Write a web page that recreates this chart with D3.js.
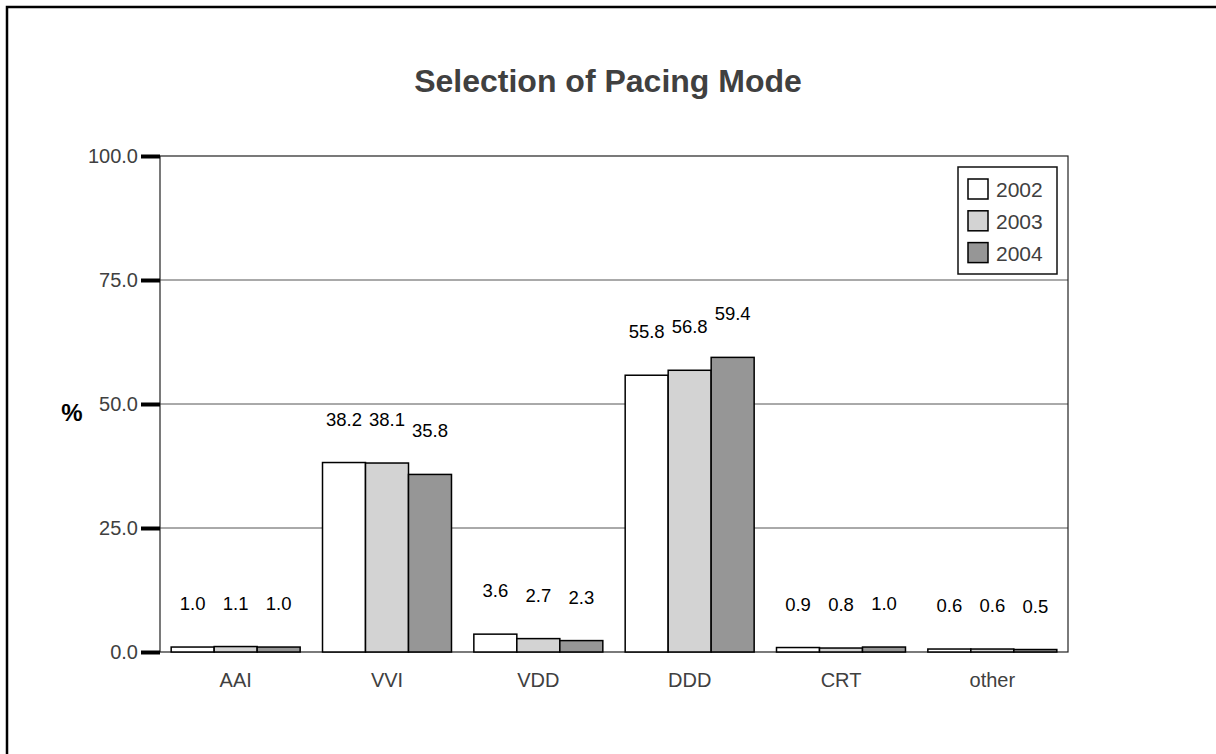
<!DOCTYPE html>
<html>
<head>
<meta charset="utf-8">
<script src="https://cdn.jsdelivr.net/npm/d3@7"></script>
<style>
  html, body { margin: 0; padding: 0; background: #fff; }
  svg { display: block; font-family: "Liberation Sans", Arial, sans-serif; }
</style>
</head>
<body>
<svg id="chart" width="1216" height="754"></svg>
<script>
// Pacing mode share (%) by year
const categories = ["AAI", "VVI", "VDD", "DDD", "CRT", "other"];
const years = ["2002", "2003", "2004"];
const values2002 = [1.0, 38.2, 3.6, 55.8, 0.9, 0.6];
const values2003 = [1.1, 38.1, 2.7, 56.8, 0.8, 0.6];
const values2004 = [1.0, 35.8, 2.3, 59.4, 1.0, 0.5];
const yTicks = [0, 25, 50, 75, 100];
const yTickLabels = ["0.0", "25.0", "50.0", "75.0", "100.0"];

const seriesValues = [values2002, values2003, values2004];
const fills = ["#ffffff", "#d3d3d3", "#969696"];

const svg = d3.select("#chart");

// outer frame
svg.append("rect")
  .attr("x", 7).attr("y", 7)
  .attr("width", 1240).attr("height", 780)
  .attr("fill", "none").attr("stroke", "#000").attr("stroke-width", 2.5);

const plot = { left: 160, right: 1068, top: 156, bottom: 652 };

const x0 = d3.scaleBand().domain(categories).range([plot.left, plot.right]).padding(0);
const x1 = d3.scaleBand().domain(years).range([0, x0.bandwidth()]).paddingInner(0).paddingOuter(0.26);
const y = d3.scaleLinear().domain([0, 100]).range([plot.bottom, plot.top]);

// title
svg.append("text")
  .attr("x", 608).attr("y", 92)
  .attr("text-anchor", "middle")
  .attr("font-size", 32).attr("font-weight", "bold")
  .attr("fill", "#404040")
  .text("Selection of Pacing Mode");

// gridlines
svg.append("g").selectAll("line")
  .data(yTicks.filter(t => t > 0 && t < 100))
  .join("line")
  .attr("x1", plot.left).attr("x2", plot.right)
  .attr("y1", d => y(d)).attr("y2", d => y(d))
  .attr("stroke", "#555").attr("stroke-width", 1);

// plot frame
svg.append("rect")
  .attr("x", plot.left).attr("y", plot.top)
  .attr("width", plot.right - plot.left).attr("height", plot.bottom - plot.top)
  .attr("fill", "none").attr("stroke", "#222").attr("stroke-width", 1.2);

// y axis: thick tick marks and labels
const yAxis = d3.axisLeft(y)
  .tickValues(yTicks)
  .tickSize(19)
  .tickPadding(3)
  .tickFormat((d, i) => yTickLabels[i]);

const yAxisG = svg.append("g")
  .attr("transform", `translate(${plot.left},0)`)
  .call(yAxis);
yAxisG.select(".domain").remove();
yAxisG.selectAll(".tick line").attr("stroke", "#000").attr("stroke-width", 4);
yAxisG.selectAll(".tick text")
  .attr("font-size", 20).attr("fill", "#404040")
  .attr("font-family", "Liberation Sans, Arial, sans-serif");

// y axis title
svg.append("text")
  .attr("x", 72).attr("y", 421)
  .attr("text-anchor", "middle")
  .attr("font-size", 24).attr("font-weight", "bold")
  .attr("fill", "#000")
  .text("%");

// x axis category labels
const xAxis = d3.axisBottom(x0).tickSize(0).tickPadding(21);
const xAxisG = svg.append("g")
  .attr("transform", `translate(0,${plot.bottom})`)
  .call(xAxis);
xAxisG.select(".domain").remove();
xAxisG.selectAll(".tick text")
  .attr("font-size", 20).attr("fill", "#404040")
  .attr("font-family", "Liberation Sans, Arial, sans-serif");

// bars
const rows = categories.map((c, i) => ({
  category: c,
  items: years.map((yr, j) => ({ year: yr, value: seriesValues[j][i], fill: fills[j] }))
}));

const groups = svg.append("g").selectAll("g")
  .data(rows)
  .join("g")
  .attr("transform", d => `translate(${x0(d.category)},0)`);

groups.selectAll("rect")
  .data(d => d.items)
  .join("rect")
  .attr("x", d => x1(d.year))
  .attr("y", d => y(d.value))
  .attr("width", x1.bandwidth())
  .attr("height", d => y(0) - y(d.value))
  .attr("fill", d => d.fill)
  .attr("stroke", "#000").attr("stroke-width", 1.5);

// value labels
const labelOffset = 37;
groups.selectAll("text")
  .data(d => d.items)
  .join("text")
  .attr("x", d => x1(d.year) + x1.bandwidth() / 2)
  .attr("y", d => y(d.value) - labelOffset)
  .attr("text-anchor", "middle")
  .attr("font-size", 18.5).attr("fill", "#000")
  .text(d => d.value.toFixed(1));

// legend
const legend = svg.append("g");
legend.append("rect")
  .attr("x", 958).attr("y", 167)
  .attr("width", 99).attr("height", 107)
  .attr("fill", "#fff").attr("stroke", "#111").attr("stroke-width", 1.5);

const legendRows = legend.selectAll("g.item")
  .data(years)
  .join("g")
  .attr("class", "item")
  .attr("transform", (d, i) => `translate(968,${179 + i * 31.8})`);

legendRows.append("rect")
  .attr("width", 20).attr("height", 20)
  .attr("fill", (d, i) => fills[i])
  .attr("stroke", "#000").attr("stroke-width", 1.5);

legendRows.append("text")
  .attr("x", 28).attr("y", 18)
  .attr("font-size", 21).attr("fill", "#404040")
  .text(d => d);
</script>
</body>
</html>
